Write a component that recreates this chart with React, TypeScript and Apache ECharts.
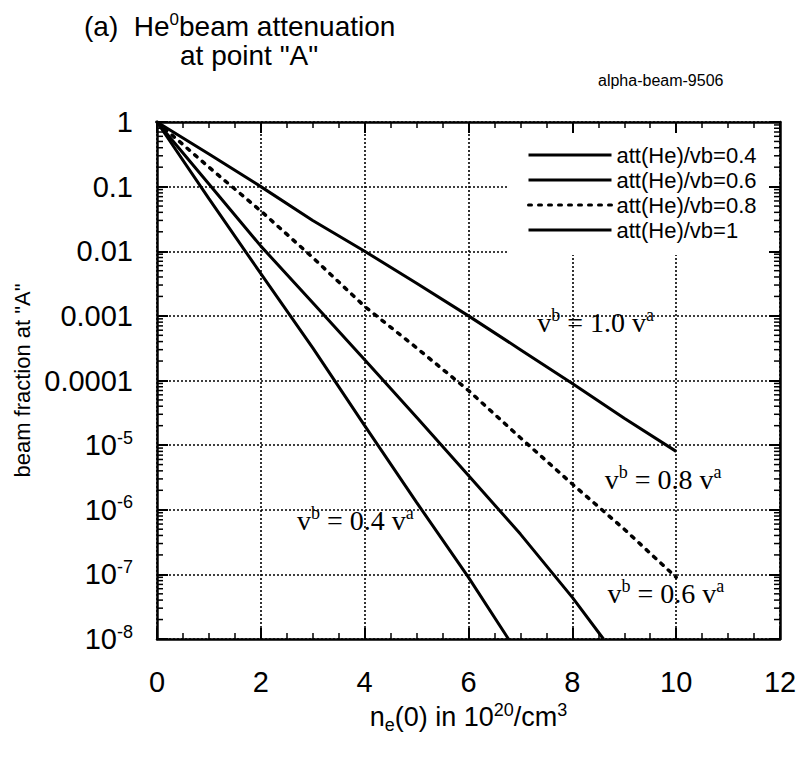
import React, { useEffect, useRef } from "react";
import * as echarts from "echarts";

// ---- data ----
const SERIES_NAMES = ["att(He)/vb=0.4", "att(He)/vb=0.6", "att(He)/vb=0.8", "att(He)/vb=1"];

const x04 = [0, 1, 2, 3, 4, 5, 6, 6.77];
const y04 = [1, 0.065, 4.5e-3, 3.2e-4, 2e-5, 1.3e-6, 9e-8, 1e-8];

const x06 = [0, 1, 2, 3, 4, 5, 6, 7, 8, 8.6];
const y06 = [1, 0.11, 0.012, 1.6e-3, 2.1e-4, 2.7e-5, 3.4e-6, 4.2e-7, 4.4e-8, 1e-8];

const x08 = [0, 1, 2, 3, 4, 5, 6, 7, 8, 9, 10];
const y08 = [1, 0.2, 0.042, 8e-3, 1.4e-3, 3.2e-4, 7e-5, 1.3e-5, 2.5e-6, 5e-7, 9e-8];

const x10 = [0, 1, 2, 3, 4, 5, 6, 7, 8, 9, 10];
const y10 = [1, 0.32, 0.1, 0.03, 0.01, 0.0032, 0.001, 3.0e-4, 9e-5, 2.6e-5, 8e-6];

const X_MIN = 0;
const X_MAX = 12;
const X_INTERVAL = 2;
const Y_MIN = 1e-8;
const Y_MAX = 1;

// annotations: value label and anchor in data coordinates
const ANNOTATIONS: { val: string; x: number; y: number }[] = [
  { val: "1.0", x: 8.45, y: 7.8e-4 },
  { val: "0.8", x: 9.75, y: 2.9e-6 },
  { val: "0.6", x: 9.8, y: 5.1e-8 },
  { val: "0.4", x: 3.82, y: 6.9e-7 },
];

const SANS = "'Liberation Sans', Arial, Helvetica, sans-serif";
const SERIF = "'Liberation Serif', 'Times New Roman', serif";

function pairs(xs: number[], ys: number[]) {
  return xs.map((x, i) => [x, ys[i]]);
}

function yLabel(v: number): string {
  const e = Math.round(Math.log10(v));
  if (e >= -4) {
    if (e === 0) return "{b|1}";
    return "{b|0." + "0".repeat(-e - 1) + "1}";
  }
  return "{b|10}{s|" + e + "}";
}

export default function App() {
  const ref = useRef<HTMLDivElement>(null);
  useEffect(() => {
    if (!ref.current) return;
    const chart = echarts.init(ref.current, undefined, { renderer: "svg" });

    const lineBase = { color: "#000", width: 3 };
    const series = [
      { name: SERIES_NAMES[0], data: pairs(x04, y04), lineStyle: { ...lineBase } },
      { name: SERIES_NAMES[1], data: pairs(x06, y06), lineStyle: { ...lineBase } },
      {
        name: SERIES_NAMES[2],
        data: pairs(x08, y08),
        lineStyle: { color: "#000", width: 3.5, type: [3, 7], cap: "round" },
      },
      { name: SERIES_NAMES[3], data: pairs(x10, y10), lineStyle: { ...lineBase } },
    ].map((s) => ({
      ...s,
      type: "line",
      symbol: "none",
      showSymbol: false,
      itemStyle: { color: "#000" },
      z: 3,
    }));

    const gridLine = { show: true, lineStyle: { color: "#000", type: [2, 2], width: 1.6 } };
    const axisLine = { show: true, onZero: false, lineStyle: { color: "#000", width: 2.5 } };
    const axisTick = { show: true, inside: true, length: 11, lineStyle: { color: "#000", width: 2 } };

    const option: any = {
      animation: false,
      backgroundColor: "#fff",
      grid: { left: 157, right: 21, top: 122, bottom: 119, containLabel: false },
      legend: {
        data: SERIES_NAMES,
        orient: "vertical",
        left: 508,
        top: 134,
        itemWidth: 83,
        itemHeight: 14,
        itemGap: 3,
        padding: [10, 12, 14, 19],
        backgroundColor: "#fff",
        itemStyle: { opacity: 0 },
        lineStyle: { width: 3 },
        textStyle: { fontSize: 22, color: "#000", fontFamily: SANS },
        z: 5,
      },
      xAxis: [
        {
          type: "value",
          min: X_MIN,
          max: X_MAX,
          interval: X_INTERVAL,
          position: "bottom",
          axisLine,
          axisTick,
          minorTick: { show: true, splitNumber: 4, length: 6, lineStyle: { color: "#000", width: 1.5 } },
          splitLine: gridLine,
          axisLabel: { fontSize: 29, margin: 28, color: "#000", fontFamily: SANS },
          name: "{n|n}{sub|e}{n|(0) in 10}{sup|20}{n|/cm}{sup|3}",
          nameLocation: "middle",
          nameGap: 58,
          nameTextStyle: {
            rich: {
              n: { fontSize: 27, color: "#000", fontFamily: SANS },
              sub: { fontSize: 18, color: "#000", fontFamily: SANS, padding: [16, 0, 0, 0] },
              sup: { fontSize: 18, color: "#000", fontFamily: SANS, padding: [0, 0, 14, 0] },
            },
          },
        },
        {
          type: "value",
          min: X_MIN,
          max: X_MAX,
          interval: X_INTERVAL,
          position: "top",
          axisLine,
          axisTick,
          minorTick: { show: true, splitNumber: 4, length: 6, lineStyle: { color: "#000", width: 1.5 } },
          splitLine: { show: false },
          axisLabel: { show: false },
        },
      ],
      yAxis: [
        {
          type: "log",
          logBase: 10,
          min: Y_MIN,
          max: Y_MAX,
          position: "left",
          axisLine,
          axisTick,
          splitLine: gridLine,
          axisLabel: {
            margin: 24,
            color: "#000",
            fontSize: 29,
            fontFamily: SANS,
            formatter: (v: number) => yLabel(v),
            rich: {
              b: { fontSize: 29, color: "#000", fontFamily: SANS },
              s: { fontSize: 18, color: "#000", fontFamily: SANS, padding: [0, 0, 15, 0] },
            },
          },
          name: 'beam fraction at "A"',
          nameLocation: "middle",
          nameGap: 119,
          nameTextStyle: { fontSize: 22, color: "#000", fontFamily: SANS },
        },
        {
          type: "log",
          logBase: 10,
          min: Y_MIN,
          max: Y_MAX,
          position: "right",
          axisLine,
          axisTick,
          splitLine: { show: false },
          axisLabel: { show: false },
        },
      ],
      series,
    };

    chart.setOption(option);

    // graphic: log minor ticks, annotations, titles
    const graphic: any[] = [];
    const xl = chart.convertToPixel({ xAxisIndex: 0 }, X_MIN) as number;
    const xr = chart.convertToPixel({ xAxisIndex: 0 }, X_MAX) as number;
    for (let d = -8; d < 0; d++) {
      for (let k = 2; k <= 9; k++) {
        const v = k * Math.pow(10, d);
        const y = chart.convertToPixel({ yAxisIndex: 0 }, v) as number;
        graphic.push({
          type: "line",
          shape: { x1: xl, y1: y, x2: xl + 6, y2: y },
          style: { stroke: "#000", lineWidth: 1.5 },
          z: 10,
        });
        graphic.push({
          type: "line",
          shape: { x1: xr, y1: y, x2: xr - 6, y2: y },
          style: { stroke: "#000", lineWidth: 1.5 },
          z: 10,
        });
      }
    }

    const annRich = {
      v: { fontSize: 28, fontFamily: SERIF, fill: "#000" },
      s: { fontSize: 18, fontFamily: SERIF, fill: "#000", padding: [0, 0, 15, 0] },
    };
    ANNOTATIONS.forEach((a) => {
      const p = chart.convertToPixel({ xAxisIndex: 0, yAxisIndex: 0 }, [a.x, a.y]) as number[];
      graphic.push({
        type: "text",
        x: p[0],
        y: p[1],
        z: 10,
        style: {
          text: "{v|v}{s|b}{v| = " + a.val + " v}{s|a}",
          align: "center",
          verticalAlign: "middle",
          rich: annRich,
        },
      });
    });

    const titleRich = {
      t: { fontSize: 28, fontFamily: SANS, fill: "#000" },
      s: { fontSize: 17, fontFamily: SANS, fill: "#000", padding: [0, 0, 14, 0] },
    };
    graphic.push({
      type: "text",
      left: 84,
      top: 11,
      style: { text: "{t|(a)  He}{s|0}{t|beam attenuation}", rich: titleRich },
    });
    graphic.push({
      type: "text",
      left: 180,
      top: 41,
      style: { text: '{t|at point "A"}', rich: titleRich },
    });
    graphic.push({
      type: "text",
      left: 598,
      top: 72,
      style: {
        text: "alpha-beam-9506",
        fontSize: 16,
        fontFamily: "'Liberation Sans Narrow', 'Arial Narrow', " + SANS,
        fill: "#000",
      },
    });

    chart.setOption({ graphic });

    return () => chart.dispose();
  }, []);

  return (
    <div
      ref={ref}
      style={{ position: "fixed", left: 0, top: 0, width: 801, height: 758, background: "#fff" }}
    />
  );
}
